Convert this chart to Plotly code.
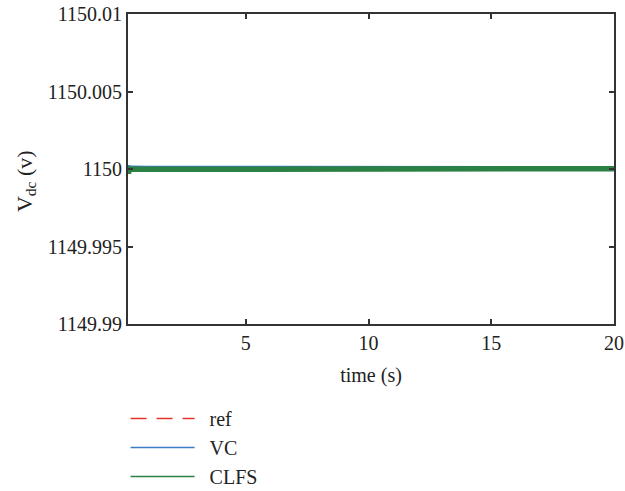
import plotly.graph_objects as go

# ---- data ----
time_s = [0.2, 0.22, 0.25, 0.3, 0.4, 0.6, 0.8, 1.0, 1.5, 2.0, 2.5, 3.0, 4.0, 6.0, 8.0, 10.0, 12.0, 14.0, 16.0, 18.0, 20.0]
ref_v = [1150.0] * len(time_s)
vc_v = [1150.0002, 1149.9998, 1150.00008, 1150.00006, 1150.00005, 1150.00005, 1150.00005, 1150.00005,
        1150.00005, 1150.00005, 1150.00004, 1150.00004, 1150.00003, 1150.00003, 1150.00003, 1150.00003,
        1150.00003, 1150.00003, 1150.00003, 1150.00003, 1150.00003]
clfs_v = [1150.0002, 1149.9997, 1149.99998, 1149.99998, 1149.99998, 1149.99998, 1149.99999, 1149.99999,
          1150.0, 1150.00001, 1150.00002, 1150.00002, 1150.00002, 1150.00002, 1150.00002, 1150.00002,
          1150.00002, 1150.00002, 1150.00002, 1150.00002, 1150.00002]
series_names = ["ref", "VC", "CLFS"]
series_colors = ["#e8312a", "#3a7dc4", "#2b8043"]

x_ticks = [5, 10, 15, 20]
y_ticks = [1149.99, 1149.995, 1150.0, 1150.005, 1150.01]
y_tick_text = ["1149.99", "1149.995", "1150", "1150.005", "1150.01"]

FONT = "Liberation Serif, Times New Roman, serif"
FS = 20
AX = "#333333"

fig = go.Figure()
# data traces (thick)
fig.add_trace(go.Scatter(x=time_s, y=ref_v, mode="lines", showlegend=False,
                         line=dict(color=series_colors[0], width=2, dash="16px,10px")))
fig.add_trace(go.Scatter(x=time_s, y=vc_v, mode="lines", showlegend=False,
                         line=dict(color=series_colors[1], width=5)))
fig.add_trace(go.Scatter(x=time_s, y=clfs_v, mode="lines", showlegend=False,
                         line=dict(color=series_colors[2], width=5.5)))
# legend entries (thin lines)
dashes = ["16px,10px", "solid", "solid"]
for name, col, d in zip(series_names, series_colors, dashes):
    fig.add_trace(go.Scatter(x=[None], y=[None], mode="lines", name="\u00a0\u00a0" + name,
                             line=dict(color=col, width=1.5, dash=d)))

fig.update_layout(
    width=625, height=491,
    margin=dict(l=128, r=11, t=14, b=167, autoexpand=False),
    paper_bgcolor="white", plot_bgcolor="white",
    font=dict(family=FONT, size=FS, color="#222222"),
    legend=dict(x=-0.005, xanchor="left", y=-0.242, yanchor="top",
                bgcolor="rgba(0,0,0,0)", itemwidth=64,
                font=dict(family=FONT, size=FS, color="#222222")),
    annotations=[dict(text="V<sub>dc</sub> (v)", xref="paper", yref="paper",
                      x=-0.21, y=0.461, xanchor="center", yanchor="middle",
                      textangle=-90, showarrow=False,
                      font=dict(family=FONT, size=22, color="#222222"))],
)
fig.update_xaxes(range=[0.2, 20], tickvals=x_ticks, ticks="inside", ticklen=5, tickwidth=2,
                 tickcolor=AX, showline=True, linecolor=AX, linewidth=2, mirror="ticks",
                 showgrid=False, zeroline=False, automargin=False,
                 tickfont=dict(family=FONT, size=FS),
                 title=dict(text="time (s)", font=dict(family=FONT, size=FS), standoff=15))
fig.update_yaxes(range=[1149.99, 1150.01], tickvals=y_ticks, ticktext=y_tick_text, ticks="inside",
                 ticklen=5, tickwidth=2, tickcolor=AX, showline=True, linecolor=AX, linewidth=2,
                 mirror="ticks", showgrid=False, zeroline=False, automargin=False,
                 tickfont=dict(family=FONT, size=FS))

fig.write_html("out.html")
